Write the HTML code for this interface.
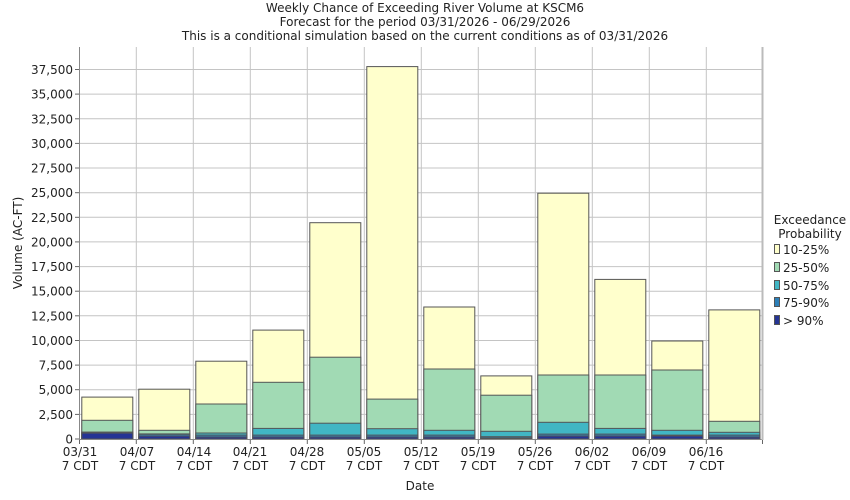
<!DOCTYPE html>
<html><head><meta charset="utf-8"><style>
body{margin:0;background:#fff}
svg{display:block;font-family:"DejaVu Sans","Liberation Sans",sans-serif;font-size:12px}
</style></head><body>
<svg width="850" height="500" viewBox="0 0 850 500" xmlns="http://www.w3.org/2000/svg">
<rect width="850" height="500" fill="#fff"/>
<g text-anchor="middle" fill="#222">
<text x="425" y="12">Weekly Chance of Exceeding River Volume at KSCM6</text>
<text x="425" y="26">Forecast for the period 03/31/2026 - 06/29/2026</text>
<text x="425" y="40">This is a conditional simulation based on the current conditions as of 03/31/2026</text>
</g>
<!-- grid -->
<g stroke="#c4c4c4" stroke-width="1">
<line x1="79" y1="414.4" x2="763" y2="414.4"/><line x1="79" y1="389.7" x2="763" y2="389.7"/>
<line x1="79" y1="365.1" x2="763" y2="365.1"/><line x1="79" y1="340.5" x2="763" y2="340.5"/>
<line x1="79" y1="315.8" x2="763" y2="315.8"/><line x1="79" y1="291.2" x2="763" y2="291.2"/>
<line x1="79" y1="266.6" x2="763" y2="266.6"/><line x1="79" y1="241.9" x2="763" y2="241.9"/>
<line x1="79" y1="217.3" x2="763" y2="217.3"/><line x1="79" y1="192.7" x2="763" y2="192.7"/>
<line x1="79" y1="168.0" x2="763" y2="168.0"/><line x1="79" y1="143.4" x2="763" y2="143.4"/>
<line x1="79" y1="118.8" x2="763" y2="118.8"/><line x1="79" y1="94.1" x2="763" y2="94.1"/>
<line x1="79" y1="69.5" x2="763" y2="69.5"/>
<line x1="136.3" y1="47" x2="136.3" y2="439"/><line x1="193.3" y1="47" x2="193.3" y2="439"/>
<line x1="250.3" y1="47" x2="250.3" y2="439"/><line x1="307.3" y1="47" x2="307.3" y2="439"/>
<line x1="364.3" y1="47" x2="364.3" y2="439"/><line x1="421.3" y1="47" x2="421.3" y2="439"/>
<line x1="478.3" y1="47" x2="478.3" y2="439"/><line x1="535.3" y1="47" x2="535.3" y2="439"/>
<line x1="592.3" y1="47" x2="592.3" y2="439"/><line x1="649.3" y1="47" x2="649.3" y2="439"/>
<line x1="706.3" y1="47" x2="706.3" y2="439"/><line x1="762.5" y1="47" x2="762.5" y2="439"/>
</g>
<!-- bars -->
<g transform="translate(0,439) scale(1,-0.009853)" stroke="#555" stroke-width="1">
<g vector-effect="non-scaling-stroke">
</g>
</g>
<g stroke="#555" stroke-width="1">
<!-- bar1 -->
<rect x="81.8" y="397.1" width="51" height="41.9" fill="#ffffcc"/>
<rect x="81.8" y="420.3" width="51" height="18.7" fill="#a1dab4"/>
<rect x="81.8" y="432.1" width="51" height="6.9" fill="#41b6c4"/>
<rect x="81.8" y="432.3" width="51" height="6.7" fill="#2c7fb8"/>
<rect x="81.8" y="433.1" width="51" height="5.9" fill="#253494"/>
<!-- bar2 -->
<rect x="138.8" y="389.2" width="51" height="49.8" fill="#ffffcc"/>
<rect x="138.8" y="430.3" width="51" height="8.7" fill="#a1dab4"/>
<rect x="138.8" y="433.9" width="51" height="5.1" fill="#41b6c4"/>
<rect x="138.8" y="434.3" width="51" height="4.7" fill="#2c7fb8"/>
<rect x="138.8" y="436.0" width="51" height="3.0" fill="#253494"/>
<!-- bar3 -->
<rect x="195.8" y="361.2" width="51" height="77.8" fill="#ffffcc"/>
<rect x="195.8" y="404.0" width="51" height="35.0" fill="#a1dab4"/>
<rect x="195.8" y="433.0" width="51" height="6.0" fill="#41b6c4"/>
<rect x="195.8" y="435.1" width="51" height="3.9" fill="#2c7fb8"/>
<rect x="195.8" y="437.0" width="51" height="2.0" fill="#253494"/>
<!-- bar4 -->
<rect x="252.8" y="330.1" width="51" height="108.9" fill="#ffffcc"/>
<rect x="252.8" y="382.3" width="51" height="56.7" fill="#a1dab4"/>
<rect x="252.8" y="428.4" width="51" height="10.6" fill="#41b6c4"/>
<rect x="252.8" y="435.1" width="51" height="3.9" fill="#2c7fb8"/>
<rect x="252.8" y="437.0" width="51" height="2.0" fill="#253494"/>
<!-- bar5 -->
<rect x="309.8" y="222.7" width="51" height="216.3" fill="#ffffcc"/>
<rect x="309.8" y="357.2" width="51" height="81.8" fill="#a1dab4"/>
<rect x="309.8" y="423.2" width="51" height="15.8" fill="#41b6c4"/>
<rect x="309.8" y="435.1" width="51" height="3.9" fill="#2c7fb8"/>
<rect x="309.8" y="437.0" width="51" height="2.0" fill="#253494"/>
<!-- bar6 -->
<rect x="366.8" y="66.6" width="51" height="372.4" fill="#ffffcc"/>
<rect x="366.8" y="399.1" width="51" height="39.9" fill="#a1dab4"/>
<rect x="366.8" y="428.7" width="51" height="10.3" fill="#41b6c4"/>
<rect x="366.8" y="435.1" width="51" height="3.9" fill="#2c7fb8"/>
<rect x="366.8" y="437.0" width="51" height="2.0" fill="#253494"/>
<!-- bar7 -->
<rect x="423.8" y="307.0" width="51" height="132.0" fill="#ffffcc"/>
<rect x="423.8" y="369.0" width="51" height="70.0" fill="#a1dab4"/>
<rect x="423.8" y="430.3" width="51" height="8.7" fill="#41b6c4"/>
<rect x="423.8" y="435.1" width="51" height="3.9" fill="#2c7fb8"/>
<rect x="423.8" y="437.0" width="51" height="2.0" fill="#253494"/>
<!-- bar8 -->
<rect x="480.8" y="375.9" width="51" height="63.1" fill="#ffffcc"/>
<rect x="480.8" y="395.2" width="51" height="43.8" fill="#a1dab4"/>
<rect x="480.8" y="431.3" width="51" height="7.7" fill="#41b6c4"/>
<rect x="480.8" y="436.7" width="51" height="2.3" fill="#2c7fb8"/>
<rect x="480.8" y="438.0" width="51" height="1.0" fill="#253494"/>
<!-- bar9 -->
<rect x="537.8" y="193.2" width="51" height="245.8" fill="#ffffcc"/>
<rect x="537.8" y="375.0" width="51" height="64.0" fill="#a1dab4"/>
<rect x="537.8" y="422.3" width="51" height="16.7" fill="#41b6c4"/>
<rect x="537.8" y="434.1" width="51" height="4.9" fill="#2c7fb8"/>
<rect x="537.8" y="436.0" width="51" height="3.0" fill="#253494"/>
<!-- bar10 -->
<rect x="594.8" y="279.4" width="51" height="159.6" fill="#ffffcc"/>
<rect x="594.8" y="375.0" width="51" height="64.0" fill="#a1dab4"/>
<rect x="594.8" y="428.4" width="51" height="10.6" fill="#41b6c4"/>
<rect x="594.8" y="434.1" width="51" height="4.9" fill="#2c7fb8"/>
<rect x="594.8" y="436.0" width="51" height="3.0" fill="#253494"/>
<!-- bar11 -->
<rect x="651.8" y="341.0" width="51" height="98.0" fill="#ffffcc"/>
<rect x="651.8" y="370.0" width="51" height="69.0" fill="#a1dab4"/>
<rect x="651.8" y="430.3" width="51" height="8.7" fill="#41b6c4"/>
<rect x="651.8" y="435.1" width="51" height="3.9" fill="#2c7fb8"/>
<rect x="651.8" y="436.0" width="51" height="3.0" fill="#253494"/>
<!-- bar12 -->
<rect x="708.8" y="309.9" width="51" height="129.1" fill="#ffffcc"/>
<rect x="708.8" y="421.3" width="51" height="17.7" fill="#a1dab4"/>
<rect x="708.8" y="432.3" width="51" height="6.7" fill="#41b6c4"/>
<rect x="708.8" y="435.1" width="51" height="3.9" fill="#2c7fb8"/>
<rect x="708.8" y="437.0" width="51" height="2.0" fill="#253494"/>
</g>
<!-- axes -->
<g stroke="#888" stroke-width="1">
<line x1="79.5" y1="47" x2="79.5" y2="440"/>
<line x1="79" y1="439.5" x2="763" y2="439.5"/>
<line x1="762.5" y1="47" x2="762.5" y2="440" stroke="#bbb" stroke-width="2"/>
</g>
<g stroke="#666">
<line x1="75" y1="439" x2="79" y2="439"/><line x1="75" y1="414.4" x2="79" y2="414.4"/><line x1="75" y1="389.7" x2="79" y2="389.7"/><line x1="75" y1="365.1" x2="79" y2="365.1"/><line x1="75" y1="340.5" x2="79" y2="340.5"/><line x1="75" y1="315.8" x2="79" y2="315.8"/><line x1="75" y1="291.2" x2="79" y2="291.2"/><line x1="75" y1="266.6" x2="79" y2="266.6"/><line x1="75" y1="241.9" x2="79" y2="241.9"/><line x1="75" y1="217.3" x2="79" y2="217.3"/><line x1="75" y1="192.7" x2="79" y2="192.7"/><line x1="75" y1="168" x2="79" y2="168"/><line x1="75" y1="143.4" x2="79" y2="143.4"/><line x1="75" y1="118.8" x2="79" y2="118.8"/><line x1="75" y1="94.1" x2="79" y2="94.1"/><line x1="75" y1="69.5" x2="79" y2="69.5"/>
<line x1="79.5" y1="440" x2="79.5" y2="444"/><line x1="136.3" y1="440" x2="136.3" y2="444"/><line x1="193.3" y1="440" x2="193.3" y2="444"/><line x1="250.3" y1="440" x2="250.3" y2="444"/><line x1="307.3" y1="440" x2="307.3" y2="444"/><line x1="364.3" y1="440" x2="364.3" y2="444"/><line x1="421.3" y1="440" x2="421.3" y2="444"/><line x1="478.3" y1="440" x2="478.3" y2="444"/><line x1="535.3" y1="440" x2="535.3" y2="444"/><line x1="592.3" y1="440" x2="592.3" y2="444"/><line x1="649.3" y1="440" x2="649.3" y2="444"/><line x1="706.3" y1="440" x2="706.3" y2="444"/><line x1="762.5" y1="440" x2="762.5" y2="444"/>
</g>
<g text-anchor="end" fill="#222">
<text x="73" y="443.5">0</text><text x="73" y="418.9">2,500</text><text x="73" y="394.2">5,000</text><text x="73" y="369.6">7,500</text><text x="73" y="345">10,000</text><text x="73" y="320.3">12,500</text><text x="73" y="295.7">15,000</text><text x="73" y="271.1">17,500</text><text x="73" y="246.4">20,000</text><text x="73" y="221.8">22,500</text><text x="73" y="197.2">25,000</text><text x="73" y="172.5">27,500</text><text x="73" y="147.9">30,000</text><text x="73" y="123.3">32,500</text><text x="73" y="98.6">35,000</text><text x="73" y="74">37,500</text>
</g>
<g text-anchor="middle" fill="#222">
<text x="80" y="456">03/31</text><text x="80" y="470">7 CDT</text>
<text x="137" y="456">04/07</text><text x="137" y="470">7 CDT</text>
<text x="194" y="456">04/14</text><text x="194" y="470">7 CDT</text>
<text x="250" y="456">04/21</text><text x="250" y="470">7 CDT</text>
<text x="307" y="456">04/28</text><text x="307" y="470">7 CDT</text>
<text x="364" y="456">05/05</text><text x="364" y="470">7 CDT</text>
<text x="421" y="456">05/12</text><text x="421" y="470">7 CDT</text>
<text x="478" y="456">05/19</text><text x="478" y="470">7 CDT</text>
<text x="535" y="456">05/26</text><text x="535" y="470">7 CDT</text>
<text x="592" y="456">06/02</text><text x="592" y="470">7 CDT</text>
<text x="649" y="456">06/09</text><text x="649" y="470">7 CDT</text>
<text x="706" y="456">06/16</text><text x="706" y="470">7 CDT</text>
<text x="420" y="490">Date</text>
<text transform="translate(22,243) rotate(-90)">Volume (AC-FT)</text>
<text x="810" y="224">Exceedance</text>
<text x="810" y="238">Probability</text>
</g>
<g stroke="#555" stroke-width="1">
<rect x="774.5" y="244.5" width="5" height="9" fill="#ffffcc"/>
<rect x="774.5" y="262.5" width="5" height="9" fill="#a1dab4"/>
<rect x="774.5" y="280.5" width="5" height="9" fill="#41b6c4"/>
<rect x="774.5" y="297.5" width="5" height="9" fill="#2c7fb8"/>
<rect x="774.5" y="315.5" width="5" height="9" fill="#253494"/>
</g>
<g fill="#222">
<text x="783" y="254">10-25%</text>
<text x="783" y="272">25-50%</text>
<text x="783" y="290">50-75%</text>
<text x="783" y="307">75-90%</text>
<text x="783" y="325">&gt; 90%</text>
</g>
</svg>
</body></html>
